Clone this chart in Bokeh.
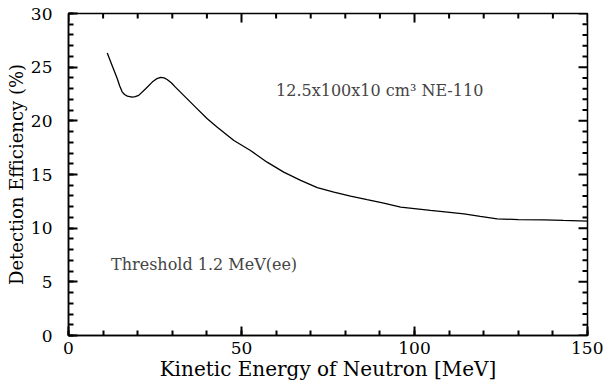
from bokeh.plotting import figure
from bokeh.models import LinearAxis, FixedTicker, Range1d, Label
from bokeh.embed import file_html
from bokeh.resources import INLINE

# data
energy = [11.2, 12.6, 13.4, 14.1, 14.8, 15.5, 16.2, 17.0, 18.4, 19.3, 20.3, 22.3, 24.2, 25.4,
          26.6, 27.6, 28.5, 29.7, 30.9, 33.8, 36.7, 40.1, 43.0, 47.8, 52.6, 57.4, 62.2,
          67.1, 71.9, 76.7, 81.5, 86.3, 91.1, 96.0, 104.6, 109.5, 114.3, 119.0, 123.9,
          130.0, 137.4, 143.0, 150.0]
efficiency = [26.31, 25.16, 24.50, 23.92, 23.25, 22.70, 22.45, 22.30, 22.21, 22.25, 22.37, 22.99,
              23.61, 23.90, 24.05, 24.00, 23.85, 23.55, 23.14, 22.21, 21.28, 20.20, 19.41,
              18.17, 17.24, 16.15, 15.22, 14.45, 13.77, 13.36, 12.98, 12.65, 12.33, 11.96,
              11.65, 11.50, 11.34, 11.10, 10.87, 10.80, 10.78, 10.72, 10.65]
x_major = [0, 50, 100, 150]
x_minor = list(range(0, 151, 10))
y_major = [0, 5, 10, 15, 20, 25, 30]
y_minor = list(range(0, 31, 1))
label_detector = "12.5x100x10  cm³ NE-110"
label_threshold = "Threshold 1.2 MeV(ee)"
xlabel = "Kinetic Energy of Neutron [MeV]"
ylabel = "Detection Efficiency (%)"

FONT = "DejaVu Serif"
X0, X1 = 0, 150
Y0, Y1 = 0, 30
FRAME_W, FRAME_H = 519, 322
NAN = float("nan")

p = figure(width=603, height=385, output_backend="svg", toolbar_location=None,
           x_range=Range1d(X0, X1), y_range=Range1d(Y0, Y1),
           x_axis_location=None, y_axis_location=None,
           min_border_left=68, min_border_right=16, min_border_top=13, min_border_bottom=50)
p.grid.visible = False
p.outline_line_color = "black"
p.outline_line_width = 1.5


def style(ax):
    ax.axis_line_color = "black"
    ax.axis_line_width = 1.5
    ax.major_tick_in = 9
    ax.major_tick_out = 0
    ax.minor_tick_in = 5
    ax.minor_tick_out = 0
    ax.major_tick_line_color = "black"
    ax.minor_tick_line_color = "black"
    ax.major_tick_line_width = 2
    ax.minor_tick_line_width = 2
    ax.major_label_text_font = FONT
    ax.major_label_text_font_size = "17px"
    ax.major_label_text_color = "black"
    ax.axis_label_text_font = FONT
    ax.axis_label_text_font_style = "normal"
    ax.axis_label_text_color = "black"


bx = LinearAxis(ticker=FixedTicker(ticks=x_major, minor_ticks=x_minor), axis_label=xlabel)
style(bx)
bx.axis_label_text_font_size = "20px"
bx.major_label_standoff = 6
bx.axis_label_standoff = 0
p.add_layout(bx, "below")

lx = LinearAxis(ticker=FixedTicker(ticks=y_major, minor_ticks=y_minor), axis_label=ylabel)
style(lx)
lx.axis_label_text_font_size = "18px"
lx.major_label_standoff = 16
lx.axis_label_standoff = 1
p.add_layout(lx, "left")

# inward ticks for the top and right sides, built from the tick lists
MAJ, MIN = 9, 5
dy_maj, dy_min = MAJ * (Y1 - Y0) / FRAME_H, MIN * (Y1 - Y0) / FRAME_H
dx_maj, dx_min = MAJ * (X1 - X0) / FRAME_W, MIN * (X1 - X0) / FRAME_W
tick_x, tick_y = [], []
for xs, d in ((x_major, dy_maj), (x_minor, dy_min)):
    for x in xs:
        tick_x += [x, x, NAN]
        tick_y += [Y1, Y1 - d, NAN]
for ys, d in ((y_major, dx_maj), (y_minor, dx_min)):
    for y in ys:
        tick_x += [X1, X1 - d, NAN]
        tick_y += [y, y, NAN]
p.line(tick_x, tick_y, line_color="black", line_width=2)

p.line(energy, efficiency, line_color="black", line_width=1.3)

p.add_layout(Label(x=60, y=22.8, text=label_detector, text_font=FONT,
                   text_font_size="16px", text_baseline="middle", text_align="left"))
p.add_layout(Label(x=12.3, y=6.6, text=label_threshold, text_font=FONT,
                   text_font_size="16px", text_baseline="middle", text_align="left"))

open("out.html", "w").write(file_html(p, INLINE))
